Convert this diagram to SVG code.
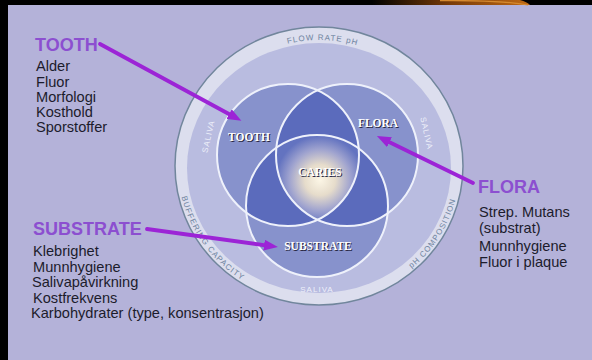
<svg xmlns="http://www.w3.org/2000/svg" width="592" height="360" viewBox="0 0 592 360">
<defs>
<style>
.head{font-family:"Liberation Sans",Arial,sans-serif;font-weight:bold;font-size:18px;fill:#8c4fd0}
.item{font-family:"Liberation Sans",Arial,sans-serif;font-size:14.6px;fill:#1c1c2c}
.ring{font-family:"Liberation Sans",Arial,sans-serif;font-size:8px;fill:#6f84a0;letter-spacing:1px}
.sal{font-family:"Liberation Sans",Arial,sans-serif;font-size:8px;fill:#eef0fa;letter-spacing:1px;text-anchor:middle}
.vl{font-family:"Liberation Serif","Times New Roman",serif;font-weight:bold;font-size:11.5px;text-anchor:middle}
.vs{fill:#2a2a44}
.vf{fill:#ffffff}
.arrow{stroke:#9c24d6;stroke-width:3.8;fill:none;stroke-linecap:round;marker-end:url(#ah)}
.circ{fill:none;stroke:#eef1fb;stroke-width:2}
.single{fill:#8792cc}
.pair{fill:#5b6bbc}
</style>
<marker id="ah" viewBox="0 0 14 11" refX="5" refY="5.5" markerWidth="14" markerHeight="11" orient="auto" markerUnits="userSpaceOnUse"><path d="M0,0 L14,5.5 L0,11 Z" fill="#9c24d6"/></marker>
<clipPath id="cT"><circle cx="288" cy="155" r="71"/></clipPath>
<clipPath id="cF"><circle cx="347" cy="155" r="71"/></clipPath>
<radialGradient id="glow" gradientUnits="userSpaceOnUse" cx="320" cy="180" r="44">
<stop offset="0" stop-color="#fcf6e6"/>
<stop offset="0.35" stop-color="#e6dccb"/>
<stop offset="0.7" stop-color="#9fa3cf"/>
<stop offset="1" stop-color="#6373c0"/>
</radialGradient>
<linearGradient id="orange" x1="372" y1="0" x2="530" y2="0" gradientUnits="userSpaceOnUse">
<stop offset="0" stop-color="#000"/>
<stop offset="0.5" stop-color="#7a3c08"/>
<stop offset="1" stop-color="#c06a14"/>
</linearGradient>
<path id="pTop" d="M234.2,69.5 A132,126 0 0,1 403.8,69.5"/>
<path id="pBuf" d="M178.5,177.9 A141,136 0 0,0 259.4,289.3"/>
<path id="pComp" d="M399.9,277.4 A141,136 0 0,0 458.6,184.9"/>
</defs>

<g id="background">
<rect x="0" y="0" width="592" height="360" fill="#b4b2d9"/>
<rect x="0" y="0" width="592" height="5" fill="#000"/>
<rect x="0" y="0" width="8" height="360" fill="#000"/>
<path d="M372,0 H520 Q527,2 530,5 H372 Z" fill="url(#orange)"/>
<path d="M440,0.6 Q500,0 528,5" fill="none" stroke="#d58a30" stroke-width="1.2"/>
</g>

<g id="saliva-ring">
<ellipse cx="319" cy="166" rx="144" ry="139" fill="#dcdeee" stroke="#71869c" stroke-width="1.5"/>
<ellipse cx="319" cy="168" rx="132" ry="125" fill="#b9bce0"/>
<text class="ring"><textPath href="#pTop" startOffset="52%" text-anchor="middle">FLOW RATE pH</textPath></text>
<text class="ring"><textPath href="#pBuf" startOffset="50%" text-anchor="middle">BUFFERING CAPACITY</textPath></text>
<text class="ring"><textPath href="#pComp" startOffset="50%" text-anchor="middle">pH COMPOSITION</textPath></text>
<text class="sal" transform="translate(211,137) rotate(-77)">SALIVA</text>
<text class="sal" transform="translate(424,134) rotate(77)">SALIVA</text>
<text class="sal" x="317" y="292">SALIVA</text>
</g>

<g id="venn-fills">
<circle class="single" cx="288" cy="155" r="71"/>
<circle class="single" cx="347" cy="155" r="71"/>
<circle class="single" cx="317" cy="206" r="71"/>
<circle class="pair" cx="347" cy="155" r="71" clip-path="url(#cT)"/>
<circle class="pair" cx="317" cy="206" r="71" clip-path="url(#cT)"/>
<circle class="pair" cx="317" cy="206" r="71" clip-path="url(#cF)"/>
<g clip-path="url(#cT)"><circle cx="317" cy="206" r="71" clip-path="url(#cF)" fill="url(#glow)"/></g>
</g>

<g id="tooth">
<circle class="circ" cx="288" cy="155" r="71"/>
<text class="vl vs" x="250" y="142">TOOTH</text>
<text class="vl vf" x="249" y="141">TOOTH</text>
</g>
<g id="flora">
<circle class="circ" cx="347" cy="155" r="71"/>
<text class="vl vs" x="379" y="128">FLORA</text>
<text class="vl vf" x="378" y="127">FLORA</text>
</g>
<g id="substrate">
<circle class="circ" cx="317" cy="206" r="71"/>
<text class="vl vs" x="319" y="251">SUBSTRATE</text>
<text class="vl vf" x="318" y="250">SUBSTRATE</text>
</g>
<g id="caries">
<text class="vl vs" x="321" y="177">CARIES</text>
<text class="vl vf" x="320" y="176">CARIES</text>
</g>

<g id="tooth-factors">
<text class="head" x="35" y="51">TOOTH</text>
<text class="item" x="36" y="71">Alder</text>
<text class="item" x="36" y="86.5">Fluor</text>
<text class="item" x="36" y="102">Morfologi</text>
<text class="item" x="36" y="117">Kosthold</text>
<text class="item" x="36" y="132">Sporstoffer</text>
</g>

<g id="substrate-factors">
<text class="head" x="33" y="235">SUBSTRATE</text>
<text class="item" x="33" y="256">Klebrighet</text>
<text class="item" x="33" y="271.5">Munnhygiene</text>
<text class="item" x="32" y="287">Salivapåvirkning</text>
<text class="item" x="33" y="302.5">Kostfrekvens</text>
<text class="item" x="31" y="318">Karbohydrater (type, konsentrasjon)</text>
</g>

<g id="flora-factors">
<text class="head" x="478" y="193">FLORA</text>
<text class="item" x="479" y="217">Strep. Mutans</text>
<text class="item" x="479" y="233">(substrat)</text>
<text class="item" x="479" y="251">Munnhygiene</text>
<text class="item" x="479" y="267">Fluor i plaque</text>
</g>

<g id="connectors">
<path class="arrow" d="M100,44 L233.5,116.5"/>
<path class="arrow" d="M147,229 L269,245.8"/>
<path class="arrow" d="M473,183 L385,140"/>
</g>
</svg>
